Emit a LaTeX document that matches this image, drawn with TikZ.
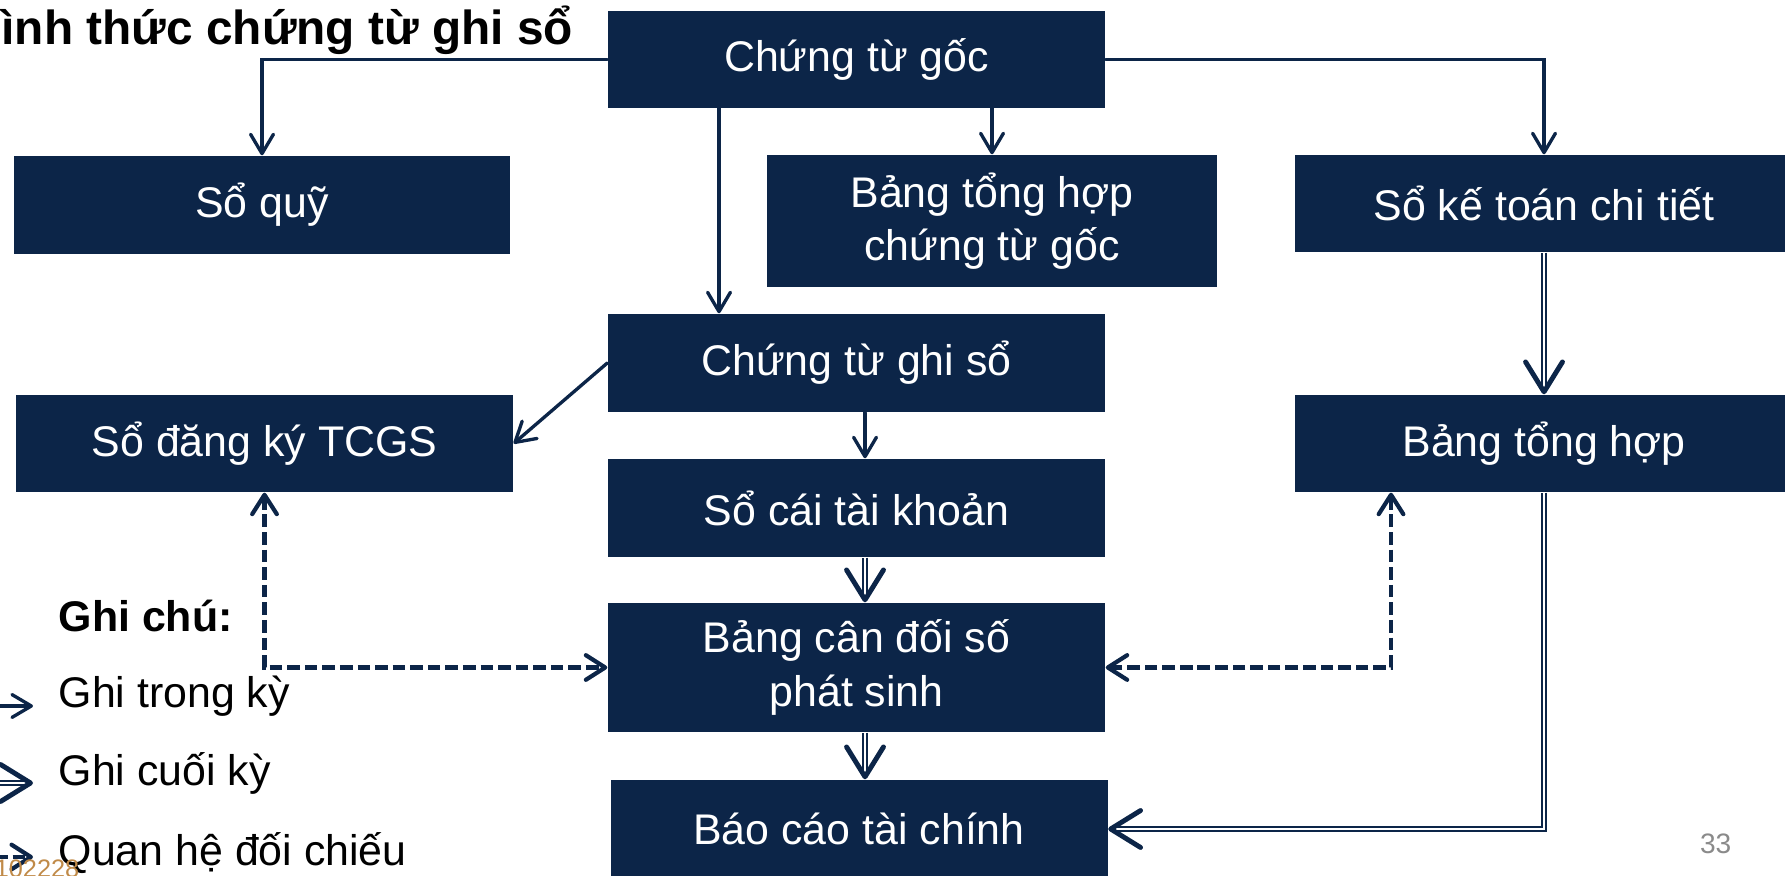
\documentclass[tikz,border=0pt]{standalone}
\usepackage{fontspec}
\setmainfont{Liberation Sans}
\usetikzlibrary{arrows.meta,calc,positioning}
\definecolor{Navy}{HTML}{0C2548}
\definecolor{PageGray}{HTML}{8A8A8A}
\definecolor{CodeGold}{HTML}{C08A48}

\tikzset{
  checktip/.tip={Straight Barb[length=5.5pt, width=7pt, line width=1.2pt, round]},
  box/.style={fill=Navy, text=white, inner sep=0pt, align=center,
    minimum width=4.97cm, minimum height=0.97cm,
    font=\fontsize{12.2}{15.2}\selectfont},
  inflow/.style={Navy, line width=0.95pt, line cap=round,
    -{Straight Barb[length=5.5pt, width=6.5pt, line width=0.95pt, round]}},
  endflow/.style={Navy, line width=0.5pt, double=white, double distance=0.8pt,
    -{Straight Barb[length=8.5pt, width=10.5pt, line width=1.4pt, round]}},
  crosscheck/.style={Navy, line width=1.2pt, dash pattern=on 3.6pt off 1.4pt, checktip-checktip},
  legendtext/.style={anchor=base west, inner sep=0pt, text=black, font=\fontsize{12.2}{15}\selectfont},
}

\begin{document}
\begin{tikzpicture}
    \useasboundingbox (0,0) rectangle (17.85,8.75);

    % Title
    \node[anchor=base west, inner sep=0pt, font=\bfseries\fontsize{13.6}{16}\selectfont] (title) at (0.01,8.30) {ình thức chứng từ ghi sổ};

    % Boxes
    \node[box] (goc) at (8.565,8.155) {Chứng từ gốc};
    \node[box, minimum width=4.96cm, minimum height=0.98cm] (quy) at (2.62,6.70) {Sổ quỹ};
    \node[box, minimum width=4.50cm, minimum height=1.32cm] (thgoc) at (9.92,6.54) {Bảng tổng hợp\\chứng từ gốc};
    \node[box, minimum width=4.98cm] (ktct) at (15.44,6.715) {Sổ kế toán chi tiết};
    \node[box, minimum height=0.98cm] (ctgs) at (8.565,5.12) {Chứng từ ghi sổ};
    \node[box] (dk) at (2.645,4.315) {Sổ đăng ký TCGS};
    \node[box, minimum width=4.98cm] (th) at (15.44,4.315) {Bảng tổng hợp};
    \node[box, minimum height=0.98cm] (socai) at (8.565,3.67) {Sổ cái tài khoản};
    \node[box, minimum height=1.29cm] (cdps) at (8.565,2.075) {Bảng cân đối số\\phát sinh};
    \node[box, minimum height=0.98cm] (bctc) at (8.59,0.46) {Báo cáo tài chính};

    % Ghi trong ky
    \draw[inflow] (goc.west) -| (quy.north);
    \draw[inflow] (goc.east) -| (ktct.north);
    \draw[inflow] ([xshift=-1.375cm]goc.south) -- ([xshift=-1.375cm]ctgs.north);
    \draw[inflow] (goc.south -| thgoc.north) -- (thgoc.north);
    \draw[inflow] (ctgs.west) -- (dk.east);
    \draw[inflow] ([xshift=0.085cm]ctgs.south) -- ([xshift=0.085cm]socai.north);

    % Ghi cuoi ky
    \draw[endflow] ([xshift=0.085cm]socai.south) -- ([xshift=0.085cm]cdps.north);
    \draw[endflow] ([xshift=0.085cm]cdps.south) -- ([xshift=0.085cm]cdps.south |- bctc.north);
    \draw[endflow] (ktct.south) -- (th.north);
    \draw[endflow] (th.south) |- (bctc.east);

    % Quan he doi chieu
    \draw[crosscheck] (dk.south) |- (cdps.west);
    \draw[crosscheck] ([xshift=-1.53cm]th.south) |- (cdps.east);

    % Legend
    \node[legendtext, font=\bfseries\fontsize{12.2}{15}\selectfont] (ghichu) at (0.58,2.43) {Ghi chú:};
    \node[legendtext] (lgin) at (0.58,1.67) {Ghi trong kỳ};
    \node[legendtext] (lgend) at (0.58,0.90) {Ghi cuối kỳ};
    \node[legendtext] (lgcheck) at (0.58,0.10) {Quan hệ đối chiếu};
    \coordinate (lgina) at (-0.05,1.69);
    \coordinate (lginb) at (0.33,1.69);
    \coordinate (lgenda) at (-0.05,0.92);
    \coordinate (lgendb) at (0.33,0.92);
    \coordinate (lgchecka) at (-0.05,0.18);
    \coordinate (lgcheckb) at (0.33,0.18);
    \draw[inflow] (lgina) -- (lginb);
    \draw[endflow] (lgenda) -- (lgendb);
    \draw[crosscheck, -checktip] (lgchecka) -- (lgcheckb);

    % Slide footer
    \node[anchor=base east, inner sep=0pt, CodeGold, font=\fontsize{7.2}{8}\selectfont] (code) at (0.80,-0.02) {102228};
    \node[anchor=base east, inner sep=0pt, PageGray, font=\fontsize{8}{9}\selectfont] (pagenum) at (17.32,0.22) {33};

\end{tikzpicture}
\end{document}
